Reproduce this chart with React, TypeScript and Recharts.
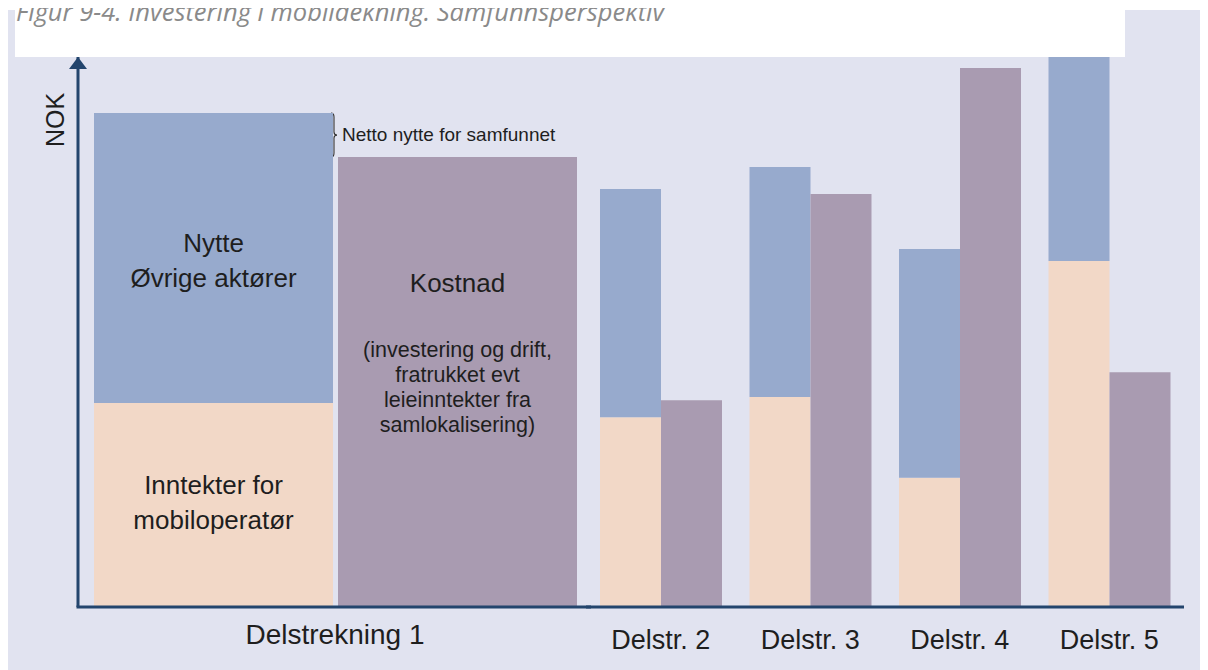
import React from 'react';
import { BarChart, Bar, XAxis, YAxis, LabelList, ReferenceArea } from 'recharts';

// values, in % of the visible NOK axis
const sections = ['Delstrekning 1', 'Delstr. 2', 'Delstr. 3', 'Delstr. 4', 'Delstr. 5'];
const operatorRevenue = [37.1, 34.5, 38.2, 23.5, 62.9];
const otherBenefit = [52.7, 41.5, 41.8, 41.6, 45.0];
const costs = [81.8, 37.6, 75.1, 98.0, 42.7];

const benefitText = ['Nytte', 'Øvrige aktører'];
const revenueText = ['Inntekter for', 'mobiloperatør'];
const costTitle = 'Kostnad';
const costNote = ['(investering og drift,', 'fratrukket evt', 'leieinntekter fra', 'samlokalisering)'];
const netText = 'Netto nytte for samfunnet';
const title = 'Figur 9-4. Investering i mobildekning. Samfunnsperspektiv';

const rows = sections.map((name, i) => ({
  name,
  revenue: operatorRevenue[i],
  benefit: otherBenefit[i],
  cost: costs[i],
}));

const AXIS = '#23456d';
const BLUE = '#97aacd';
const PEACH = '#f2d8c7';
const PURPLE = '#a99bb1';
const BG = '#e1e3f0';
const INK = '#1e1e1e';
const FONT = '"Liberation Sans", Arial, sans-serif';

const boxOf = (p: any) => {
  const vb = p.viewBox && p.viewBox.width !== undefined ? p.viewBox : p;
  return { x: Number(vb.x), y: Number(vb.y), width: Number(vb.width), height: Number(vb.height) };
};

const centeredLines = (lines: string[], shift: number) => (p: any) => {
  if (p.index !== undefined && p.index !== 0) return null;
  const { x, y, width, height } = boxOf(p);
  const cx = x + width / 2;
  const cy = y + height / 2;
  return (
    <text textAnchor="middle" fill={INK} fontFamily={FONT} fontSize={26}>
      {lines.map((l, k) => (
        <tspan key={k} x={cx} y={cy + shift + k * 35}>{l}</tspan>
      ))}
    </text>
  );
};

const costLabel = (p: any) => {
  if (p.index !== undefined && p.index !== 0) return null;
  const { x, y, width, height } = boxOf(p);
  const cx = x + width / 2;
  const cy = y + height / 2;
  return (
    <g fill={INK} fontFamily={FONT} textAnchor="middle">
      <text x={cx} y={cy - 90} fontSize={26}>{costTitle}</text>
      <text fontSize={21.5}>
        {costNote.map((l, k) => (
          <tspan key={k} x={cx} y={cy - 25 + k * 25}>{l}</tspan>
        ))}
      </text>
    </g>
  );
};

const nokLabel = (p: any) => {
  const { x, y, width } = boxOf(p);
  const lx = x + width - 23;
  const ly = y + 63;
  return (
    <text x={lx} y={ly} transform={`rotate(-90 ${lx} ${ly})`} textAnchor="middle"
      dominantBaseline="central" fill={INK} fontFamily={FONT} fontSize={25}>NOK</text>
  );
};

const brace = (p: any) => {
  const bx = p.x + p.width / 2 - 3;
  const top = p.y;
  const bot = p.y + p.height;
  const mid = (top + bot) / 2;
  const d = `M${bx - 1},${top} Q${bx + 2},${top} ${bx + 2},${top + 4} L${bx + 2},${mid - 3} Q${bx + 2},${mid} ${bx + 5},${mid} Q${bx + 2},${mid} ${bx + 2},${mid + 3} L${bx + 2},${bot - 4} Q${bx + 2},${bot} ${bx - 1},${bot}`;
  return (
    <g>
      <path d={d} fill="none" stroke="#333" strokeWidth={1.1} />
      <text x={bx + 10} y={mid + 6} fill={INK} fontFamily={FONT} fontSize={19}>{netText}</text>
    </g>
  );
};

const axisLine = { stroke: AXIS, strokeWidth: 3, strokeLinecap: 'square' as const };

export default function App() {
  return (
    <div style={{ position: 'relative', width: 1200, height: 662 }}>
      <svg width={0} height={0} style={{ position: 'absolute' }}>
        <defs>
          <marker id="nokArrow" markerUnits="userSpaceOnUse" markerWidth={18} markerHeight={12}
            viewBox="0 0 18 12" refX={9} refY={0} orient="0">
            <path d="M9,0 L18,12 L0,12 Z" fill={AXIS} />
          </marker>
        </defs>
      </svg>
      <div style={{ position: 'absolute', left: 0, top: 2, width: 1200, height: 660, background: BG }} />
      <div style={{ position: 'absolute', left: 7, top: -8, width: 1110, height: 57, background: '#fff' }} />
      <div style={{
        position: 'absolute', left: 8, top: -9, fontFamily: '"Open Sans", sans-serif', fontStyle: 'italic',
        fontSize: 25.5, lineHeight: '25px', color: '#8a8a8a', whiteSpace: 'nowrap',
      }}>{title}</div>

      <div style={{ position: 'absolute', left: 0, top: 2 }}>
        <BarChart width={583} height={647} data={rows.slice(0, 1)} barSize={239} barGap={5}
          margin={{ top: 47, right: 0, left: 0, bottom: 0 }}>
          <XAxis dataKey="name" padding={{ left: 1, right: 0 }} height={50} tickLine={false} tickSize={0}
            tickMargin={17} axisLine={axisLine} tick={{ fill: INK, fontSize: 28, fontFamily: FONT }} />
          <YAxis width={70} domain={[0, 100]} allowDataOverflow tick={false} tickLine={false}
            axisLine={{ ...axisLine, strokeLinecap: 'butt', markerStart: 'url(#nokArrow)' }} label={nokLabel} />
          <Bar dataKey="revenue" stackId="s" fill={PEACH} isAnimationActive={false}>
            <LabelList dataKey="name" content={centeredLines(revenueText, -11)} />
          </Bar>
          <Bar dataKey="benefit" stackId="s" fill={BLUE} isAnimationActive={false}>
            <LabelList dataKey="name" content={centeredLines(benefitText, -6)} />
          </Bar>
          <Bar dataKey="cost" fill={PURPLE} isAnimationActive={false}>
            <LabelList dataKey="name" content={costLabel} />
          </Bar>
          <ReferenceArea y1={costs[0]} y2={operatorRevenue[0] + otherBenefit[0]} shape={brace} />
        </BarChart>
      </div>

      <div style={{ position: 'absolute', left: 578, top: 2 }}>
        <BarChart width={598} height={647} data={rows.slice(1)} barSize={61} barGap={0}
          margin={{ top: 47, right: 0, left: 0, bottom: 0 }}>
          <XAxis dataKey="name" height={50} tickLine={false} tickSize={0} tickMargin={23}
            axisLine={axisLine} tick={{ fill: INK, fontSize: 27, fontFamily: FONT }} />
          <YAxis hide domain={[0, 100]} allowDataOverflow />
          <Bar dataKey="revenue" stackId="s" fill={PEACH} isAnimationActive={false} />
          <Bar dataKey="benefit" stackId="s" fill={BLUE} isAnimationActive={false} />
          <Bar dataKey="cost" fill={PURPLE} isAnimationActive={false} />
        </BarChart>
      </div>
    </div>
  );
}
